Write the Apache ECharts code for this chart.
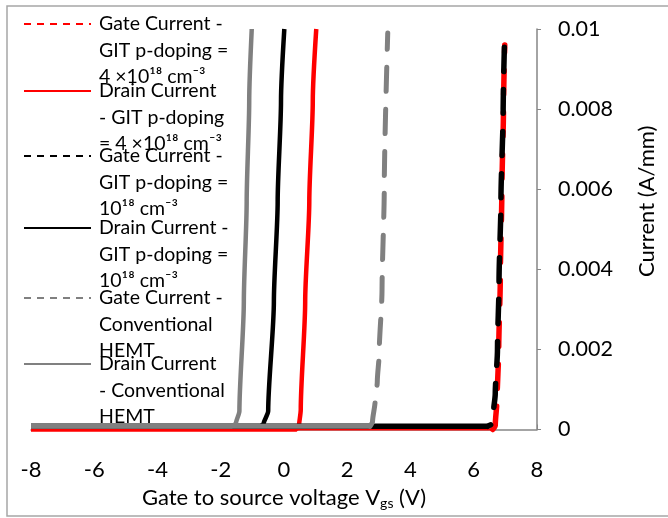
<!DOCTYPE html>
<html>
<head>
<meta charset="utf-8">
<script src="https://cdn.jsdelivr.net/npm/echarts@6/dist/echarts.min.js"></script>
<style>
html,body{margin:0;padding:0;background:#fff;}
#chart{width:668px;height:518px;}
</style>
</head>
<body>
<div id="chart"></div>
<script>
// ---- data ----
const seriesNames = [
  'Gate Current - GIT p-doping = 4 ×10¹⁸ cm⁻³',
  'Drain Current - GIT p-doping = 4 ×10¹⁸ cm⁻³',
  'Gate Current - GIT p-doping = 10¹⁸ cm⁻³',
  'Drain Current - GIT p-doping = 10¹⁸ cm⁻³',
  'Gate Current - Conventional HEMT',
  'Drain Current - Conventional HEMT'
];
const legendLines = [
  ['Gate Current -', 'GIT p-doping =', '4 ×10¹⁸ cm⁻³'],
  ['Drain Current', '- GIT p-doping', '= 4 ×10¹⁸ cm⁻³'],
  ['Gate Current -', 'GIT p-doping =', '10¹⁸ cm⁻³'],
  ['Drain Current -', 'GIT p-doping =', '10¹⁸ cm⁻³'],
  ['Gate Current -', 'Conventional', 'HEMT'],
  ['Drain Current', '- Conventional', 'HEMT']
];
const xTicks = [-8, -6, -4, -2, 0, 2, 4, 6, 8];
const yTicks = [0, 0.002, 0.004, 0.006, 0.008, 0.01];

// Gate current, GIT p-doping 4e18 (red dashed)
const vgsGate4e18 = [-8, 6.60, 6.68, 6.74, 6.79, 6.84, 6.89, 6.94, 6.98];
const igGate4e18  = [0, 0, 0.0001, 0.0008, 0.0020, 0.0038, 0.0060, 0.0080, 0.0096];
// Drain current, GIT p-doping 4e18 (red solid)
const vgsDrain4e18 = [-8, 0.40, 0.47, 0.53, 0.67, 0.80, 0.91, 1.02];
const idDrain4e18  = [0, 0, 0.00005, 0.0005, 0.0032, 0.0057, 0.0082, 0.0100];
// Gate current, GIT p-doping 1e18 (black dashed)
const vgsGate1e18 = [-8, 6.45, 6.55, 6.62, 6.68, 6.75, 6.80, 6.86, 6.93, 6.98];
const igGate1e18  = [0.00008, 0.00008, 0.00013, 0.0004, 0.0009, 0.0020, 0.0037, 0.0057, 0.0080, 0.0099];
// Drain current, GIT p-doping 1e18 (black solid)
const vgsDrain1e18 = [-8, -0.75, -0.65, -0.50, -0.32, -0.20, -0.095, 0.01];
const idDrain1e18  = [0.00008, 0.00008, 0.00013, 0.00046, 0.0032, 0.0057, 0.0082, 0.0100];
// Gate current, conventional HEMT (grey dashed)
const vgsGateConv = [-8, 2.72, 2.80, 2.88, 2.95, 3.01, 3.10, 3.17, 3.28];
const igGateConv  = [0.00008, 0.00008, 0.0002, 0.0007, 0.0012, 0.0019, 0.0035, 0.0060, 0.0099];
// Drain current, conventional HEMT (grey solid)
const vgsDrainConv = [-8, -1.64, -1.52, -1.41, -1.27, -1.18, -1.10, -1.02];
const idDrainConv  = [0.00008, 0.00008, 0.00015, 0.00046, 0.0032, 0.0057, 0.0082, 0.0100];

// ---- styles / layout ----
const FONT = 'Lato';
const zip = (xs, ys) => xs.map((x, i) => [x, ys[i]]);
const seriesData = [
  zip(vgsGate4e18, igGate4e18),
  zip(vgsDrain4e18, idDrain4e18),
  zip(vgsGate1e18, igGate1e18),
  zip(vgsDrain1e18, idDrain1e18),
  zip(vgsGateConv, igGateConv),
  zip(vgsDrainConv, idDrainConv)
];
const seriesColors = ['#ff0000', '#ff0000', '#000000', '#000000', '#808080', '#808080'];
const seriesDashed = [true, false, true, false, true, false];
const seriesWidths = [5.5, 4.5, 5.5, 4.5, 5, 4.5];
const dashOffsets = [0, 0, 21, 0, 0, 0];
const legendIconY = [24, 91, 156, 228, 298, 364];
const LH = 26.5;

const chart = echarts.init(document.getElementById('chart'), null, {renderer: 'canvas'});

const legends = seriesNames.map((name, i) => ({
  data: [name],
  orient: 'vertical',
  left: 23,
  top: legendIconY[i] - 2.5 * LH,
  padding: 0,
  itemGap: 0,
  itemWidth: 67,
  itemHeight: 14,
  selectedMode: false,
  formatter: () => '\n\n' + legendLines[i].join('\n'),
  itemStyle: {opacity: 0, borderWidth: 0},
  lineStyle: {width: 2, type: seriesDashed[i] ? [7, 6] : 'solid', cap: 'butt', opacity: 1},
  textStyle: {
    fontFamily: FONT, fontSize: 19.5, lineHeight: LH, color: '#000',
    padding: [0, 0, 0, 3]
  }
}));

// Excel restarts its dash pattern on every short segment, so the dense
// sub-threshold part of each gate-current curve shows as a solid line:
// split each dashed series into its flat part (solid) and its turn-on part (dashed).
const FLAT_POINTS = [2, 0, 2, 0, 2, 0];
const series = [];
seriesNames.forEach((name, i) => {
  const base = {
    name: name,
    type: 'line',
    symbol: 'none',
    showSymbol: false,
    smooth: 0.25,
    smoothMonotone: 'y',
    clip: false,
    itemStyle: {color: seriesColors[i]},
    emphasis: {disabled: true}
  };
  if (seriesDashed[i]) {
    const n = FLAT_POINTS[i];
    series.push(Object.assign({}, base, {
      data: seriesData[i].slice(0, n),
      lineStyle: {color: seriesColors[i], width: i === 0 ? 2 : seriesWidths[i], type: 'solid', cap: 'butt'}
    }));
    series.push(Object.assign({}, base, {
      data: seriesData[i].slice(n - 1),
      lineStyle: {color: seriesColors[i], width: seriesWidths[i], type: [24, 18],
                  dashOffset: dashOffsets[i], cap: 'round'}
    }));
  } else {
    series.push(Object.assign({}, base, {
      data: seriesData[i],
      lineStyle: {color: seriesColors[i], width: seriesWidths[i], type: 'solid', cap: 'butt'}
    }));
  }
});

chart.setOption({
  animation: false,
  backgroundColor: '#fff',
  graphic: [{
    type: 'rect',
    shape: {x: 7, y: 6, width: 700, height: 510},
    style: {fill: 'none', stroke: '#a6a6a6', lineWidth: 1.5},
    silent: true
  }],
  grid: {left: 31, right: 131, top: 29, bottom: 88.5, containLabel: false},
  legend: legends,
  xAxis: {
    type: 'value',
    min: xTicks[0], max: xTicks[xTicks.length - 1], interval: 2,
    axisLine: {show: true, onZero: false, lineStyle: {color: '#868686', width: 1.5}},
    axisTick: {show: true, inside: true, length: 5, lineStyle: {color: '#868686', width: 1}},
    axisLabel: {margin: 29, fontFamily: FONT, fontSize: 22, color: '#000'},
    splitLine: {show: false},
    name: 'Gate to source voltage V{sub|gs} (V)',
    nameLocation: 'middle',
    nameGap: 55,
    nameTextStyle: {
      fontFamily: FONT, fontSize: 22, color: '#000',
      rich: {sub: {fontFamily: FONT, fontSize: 14, color: '#000', padding: [12, 0, 0, 0]}}
    }
  },
  yAxis: {
    type: 'value',
    position: 'right',
    min: yTicks[0], max: yTicks[yTicks.length - 1], interval: 0.002,
    axisLine: {show: true, onZero: false, lineStyle: {color: '#868686', width: 1.5}},
    axisTick: {show: true, inside: false, length: 4, lineStyle: {color: '#868686', width: 1}},
    axisLabel: {margin: 21, fontFamily: FONT, fontSize: 21.5, color: '#000'},
    splitLine: {show: false},
    name: 'Current (A/mm)',
    nameLocation: 'middle',
    nameGap: 99,
    nameTextStyle: {fontFamily: FONT, fontSize: 22, color: '#000', padding: [0, 0, 0, 56]}
  },
  series: series
});
</script>
</body>
</html>
